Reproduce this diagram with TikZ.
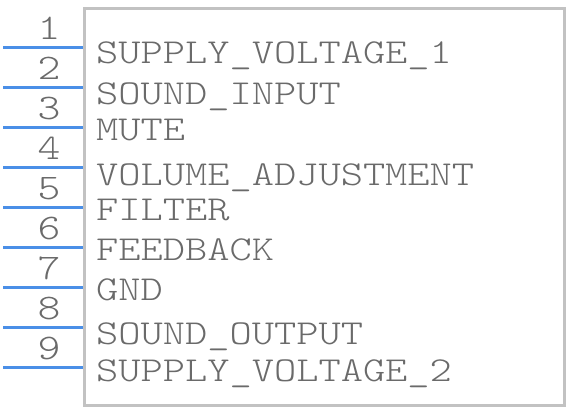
\documentclass[tikz,border=0pt]{standalone}
\usepackage{fontspec}
\setmonofont[FakeStretch=1.21]{Latin Modern Mono Light}
\usepackage{tikz}
\usetikzlibrary{positioning}
\definecolor{pinblue}{HTML}{4A8FE7}
\definecolor{boxgray}{HTML}{C2C2C2}
\definecolor{txtgray}{HTML}{6A6A6A}

\begin{document}
\begin{tikzpicture}[x=1pt,y=-1pt,
  pinline/.style={line width=3pt, pinblue},
  pinnum/.style={anchor=base, inner sep=0pt, text=txtgray, font=\ttfamily\fontsize{36}{40}\selectfont},
  pinlabel/.style={anchor=base west, inner sep=0pt, text=txtgray, font=\ttfamily\fontsize{35}{40}\selectfont}]

\useasboundingbox (0,0) rectangle (568,412);

% body
\draw [boxgray, line width=3pt] (84.5,8.5) rectangle (564.5,405.5);

% pins
\foreach \n in {1,2,3,4,5,6,7,8,9} {
   \coordinate (pa\n) at (3, 7.5+40*\n);
   \coordinate (pb\n) at (83, 7.5+40*\n);
   \draw [pinline] (pa\n) -- (pb\n);
   \node [pinnum] (num\n) at (49, -0.5+40*\n) {\n};
}

\path
(96,64) node[pinlabel] (lab1) {SUPPLY\_VOLTAGE\_1}
(96,104) node[pinlabel] (lab2) {SOUND\_INPUT}
(96,140) node[pinlabel] (lab3) {MUTE}
(96,185) node[pinlabel] (lab4) {VOLUME\_ADJUSTMENT}
(96,220) node[pinlabel] (lab5) {FILTER}
(96,260) node[pinlabel] (lab6) {FEEDBACK}
(96,300) node[pinlabel] (lab7) {GND}
(96,344) node[pinlabel] (lab8) {SOUND\_OUTPUT}
(96,381) node[pinlabel] (lab9) {SUPPLY\_VOLTAGE\_2};

\end{tikzpicture}
\end{document}
